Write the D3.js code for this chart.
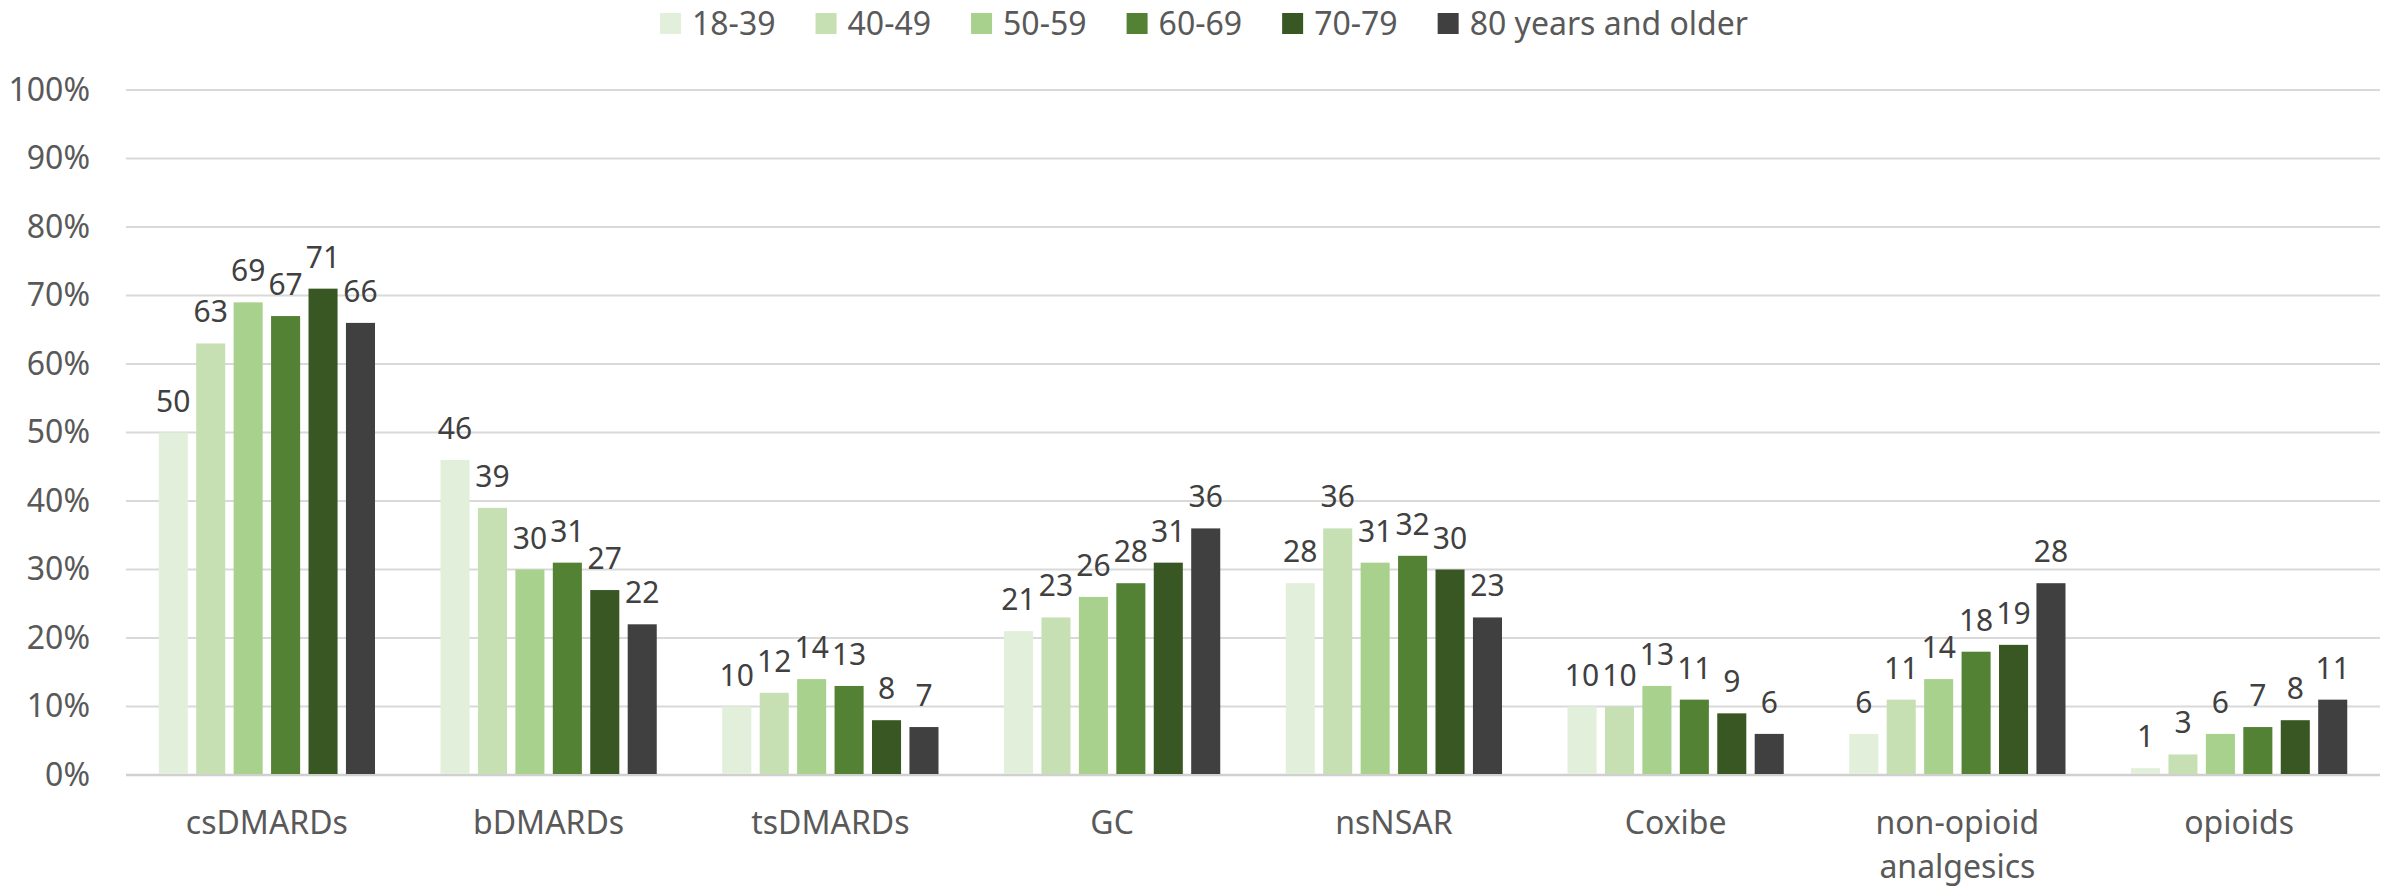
<!DOCTYPE html>
<html>
<head>
<meta charset="utf-8">
<script src="https://cdn.jsdelivr.net/npm/d3@7"></script>
<style>
  html, body { margin: 0; padding: 0; background: #fff; }
  text { font-family: "Noto Sans", "Open Sans", sans-serif; }
</style>
</head>
<body>
<svg id="chart" width="2389" height="890"></svg>
<script>
// Data
const categories = ["csDMARDs", "bDMARDs", "tsDMARDs", "GC", "nsNSAR", "Coxibe", "non-opioid analgesics", "opioids"];
const ageGroups = ["18-39", "40-49", "50-59", "60-69", "70-79", "80 years and older"];
const age18to39 = [50, 46, 10, 21, 28, 10, 6, 1];
const age40to49 = [63, 39, 12, 23, 36, 10, 11, 3];
const age50to59 = [69, 30, 14, 26, 31, 13, 14, 6];
const age60to69 = [67, 31, 13, 28, 32, 11, 18, 7];
const age70to79 = [71, 27, 8, 31, 30, 9, 19, 8];
const age80plus = [66, 22, 7, 36, 23, 6, 28, 11];
const yTicks = [0, 10, 20, 30, 40, 50, 60, 70, 80, 90, 100];
const colors = ["#e2efda", "#c6e0b4", "#a9d18e", "#548235", "#385723", "#404040"];

const seriesValues = [age18to39, age40to49, age50to59, age60to69, age70to79, age80plus];

// Layout
const margin = {left: 126, right: 9, top: 90, bottom: 115};
const width = 2389, height = 890;
const plotW = width - margin.left - margin.right;
const plotH = height - margin.top - margin.bottom;

const svg = d3.select("#chart");
const g = svg.append("g").attr("transform", `translate(${margin.left},${margin.top})`);

// Scales
const x0 = d3.scaleBand().domain(categories).range([0, plotW]).paddingInner(0.2325).paddingOuter(0.11625);
const x1 = d3.scaleBand().domain(ageGroups).range([0, x0.bandwidth()]).paddingInner(0.224).paddingOuter(0);
const y = d3.scaleLinear().domain([0, 100]).range([plotH, 0]);
const color = d3.scaleOrdinal().domain(ageGroups).range(colors);

// Gridlines
g.selectAll(".grid")
    .data(yTicks)
    .join("line")
    .attr("class", "grid")
    .attr("x1", 0).attr("x2", plotW)
    .attr("y1", d => y(d)).attr("y2", d => y(d))
    .attr("stroke", d => d === 0 ? "#d0d0d0" : "#d9d9d9")
    .attr("stroke-width", d => d === 0 ? 2.5 : 2);

// Y axis labels
const yAxis = g.append("g")
    .call(d3.axisLeft(y).tickValues(yTicks).tickFormat(d => d + "%").tickSize(0).tickPadding(36));
yAxis.select(".domain").remove();
yAxis.selectAll("text")
    .attr("font-size", 32)
    .attr("fill", "#595959")
    .attr("font-family", "'Noto Sans', sans-serif");

// Bars
const barData = [];
categories.forEach((c, ci) => {
    ageGroups.forEach((a, ai) => {
        barData.push({cat: c, age: a, value: seriesValues[ai][ci]});
    });
});

g.selectAll(".bar")
    .data(barData)
    .join("rect")
    .attr("class", "bar")
    .attr("x", d => x0(d.cat) + x1(d.age))
    .attr("width", x1.bandwidth())
    .attr("y", d => y(d.value))
    .attr("height", d => y(0) - y(d.value) - 1)
    .attr("fill", d => color(d.age));

// Data labels
g.selectAll(".dlabel")
    .data(barData)
    .join("text")
    .attr("class", "dlabel")
    .attr("x", d => x0(d.cat) + x1(d.age) + x1.bandwidth() / 2)
    .attr("y", d => y(d.value) - 21)
    .attr("text-anchor", "middle")
    .attr("font-size", 30)
    .attr("fill", "#404040")
    .text(d => d.value);

// Category labels (wrap non-opioid analgesics)
const catLabels = g.selectAll(".clabel")
    .data(categories)
    .join("text")
    .attr("class", "clabel")
    .attr("text-anchor", "middle")
    .attr("font-size", 32)
    .attr("fill", "#595959")
    .attr("transform", d => `translate(${x0(d) + x0.bandwidth() / 2},${plotH + 59})`);

catLabels.each(function(d) {
    const parts = d === "non-opioid analgesics" ? ["non-opioid", "analgesics"] : [d];
    d3.select(this).selectAll("tspan")
        .data(parts)
        .join("tspan")
        .attr("x", 0)
        .attr("dy", (p, i) => i === 0 ? 0 : 44)
        .text(p => p);
});

// Legend
const legend = svg.append("g").attr("class", "legend");
let lx = 660;
ageGroups.forEach((a) => {
    const item = legend.append("g").attr("transform", `translate(${lx},0)`);
    item.append("rect")
        .attr("x", 0).attr("y", 13)
        .attr("width", 21).attr("height", 21)
        .attr("fill", color(a));
    const t = item.append("text")
        .attr("x", 32).attr("y", 35)
        .attr("font-size", 32)
        .attr("fill", "#595959")
        .text(a);
    lx += 32 + t.node().getComputedTextLength() + 40;
});
</script>
</body>
</html>
